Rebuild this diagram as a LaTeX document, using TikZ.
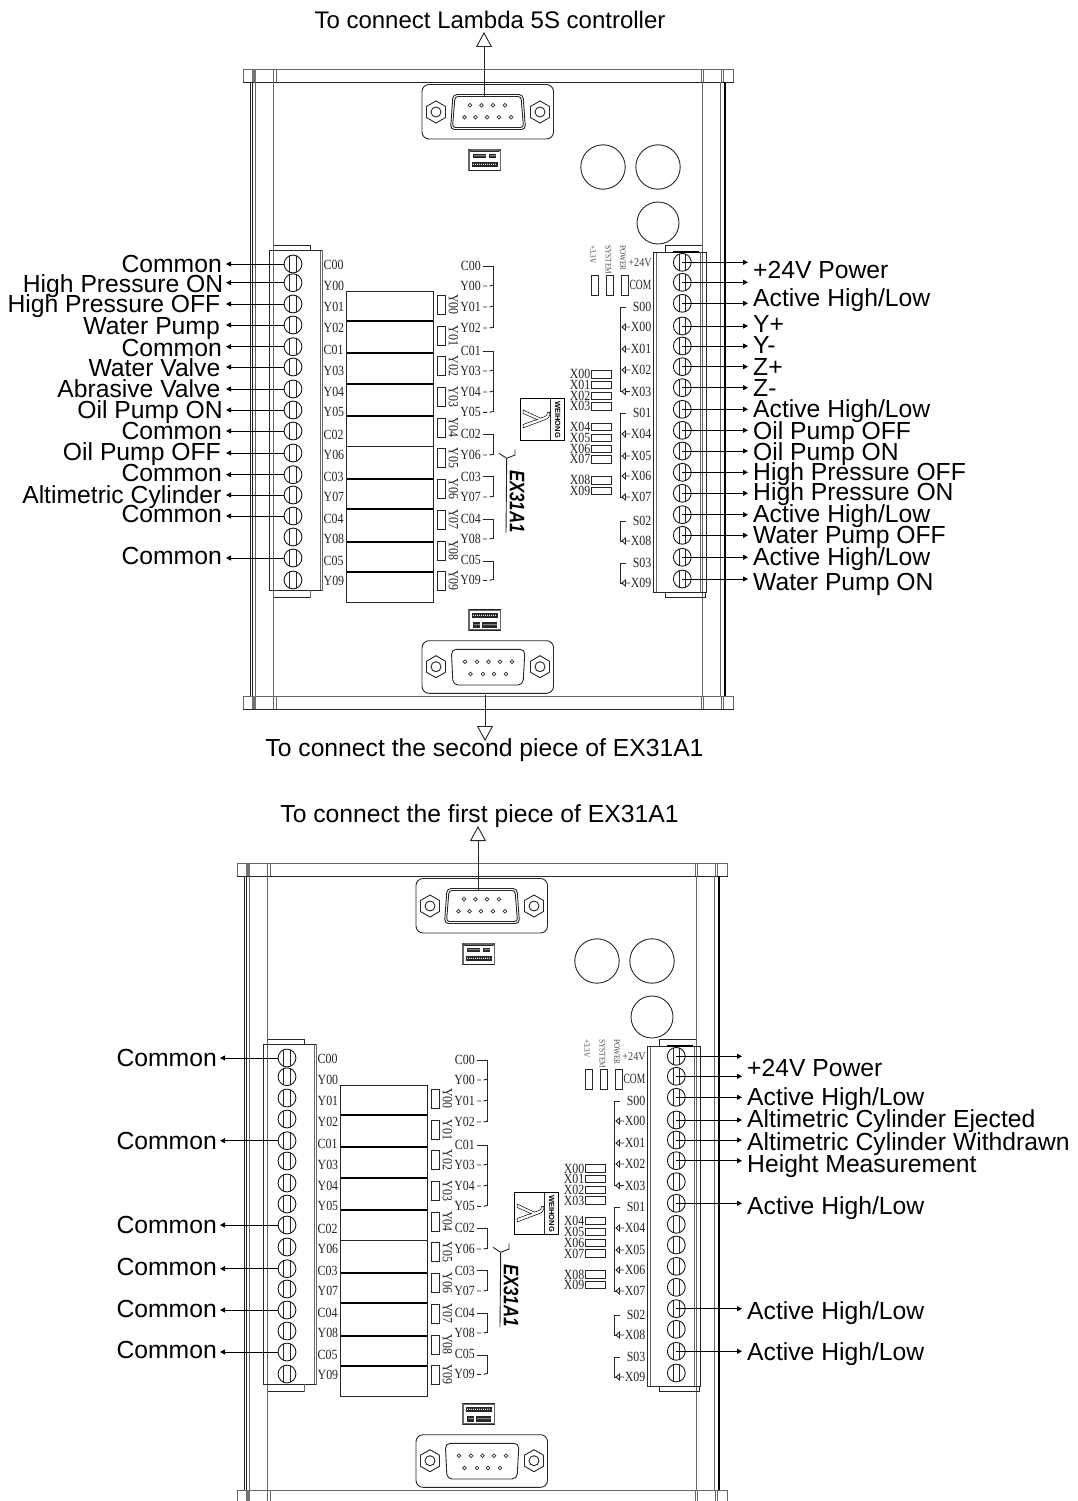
\documentclass[tikz,border=0pt]{standalone}
\usepackage{fontspec}
\usetikzlibrary{arrows.meta}
\setmainfont{Liberation Sans}
\newfontfamily\cond[FakeStretch=0.85]{Liberation Serif}
\newfontfamily\condx[FakeStretch=0.68]{Liberation Serif}
\newfontfamily\sansx[FakeStretch=0.8]{Liberation Sans}
\newcommand\ahl{Active High/Low}
\newcommand\hexnut[2]{%
  \begin{scope}[shift={(#1,#2)}]
    \draw[ln] (0,-11)--(9.5,-5.5)--(9.5,5.5)--(0,11)--(-9.5,5.5)--(-9.5,-5.5)--cycle;
    \draw[ln] (0,0) circle[radius=5];
  \end{scope}}
\newcommand\strip[4]{\fill[black!85] (#1,#3) rectangle (#2,#4);
  \foreach \d in {1,...,12}{\pgfmathsetmacro\xx{#1+\d*2}\ifdim\xx pt<#2pt\relax\fill[white] (\xx,{(#3+#4)/2}) circle[radius=.6];\fi}}
\newcommand\boardbody{%
  % bars
  \foreach \a/\b in {69.5/82,696/709}{
    \draw[bar] (243,\a) rectangle (733.5,\b);
    \draw[ln] (243,\b)--(733.5,\b);
    \fill[black!55] (252,\a) rectangle (256,\b);
    \draw[gln] (273.7,\a)--(273.7,\b) (276,\a)--(276,\b) (701,\a)--(701,\b) (703,\a)--(703,\b) (721.5,\a)--(721.5,\b) (723.5,\a)--(723.5,\b);
  }
  % rails
  \draw[ln] (250.7,82)--(250.7,696) (252.3,82)--(252.3,696);
  \draw[gln] (255.5,82)--(255.5,696) (273.8,82)--(273.8,696) (702,82)--(702,696) (720,82)--(720,696);
  \draw[line width=2.4pt] (725,82)--(725,696);
  % top DB9
  \draw[ln,rounded corners=7pt] (422,84.5) rectangle (553.5,139);
  \hexnut{436}{112}\hexnut{540}{112}
  \draw[ln,rounded corners=4pt] (453,94.5)--(523,94.5)--(525.5,129.5)--(450.5,129.5)--cycle;
  \draw[ln,rounded corners=3pt] (455,96.5)--(521,96.5)--(523.5,127.5)--(452.5,127.5)--cycle;
  \foreach \x in {470,481.5,493,505}{\draw[pinl] (\x,105.3) circle[radius=1.9];}
  \foreach \x in {464.5,475.5,487,499,511}{\draw[pinl] (\x,117.3) circle[radius=1.9];}
  \coordinate (dbt) at (484,96);
  % bottom DB9
  \draw[ln,rounded corners=7pt] (422,640.7) rectangle (553.5,693.3);
  \hexnut{436}{666.7}\hexnut{540}{666.7}
  \draw[ln,rounded corners=5pt] (451.3,649.3)--(525,649.3)--(523,685)--(453,685)--cycle;
  \foreach \x in {465,477,488.5,500,512}{\draw[pinl] (\x,661.7) circle[radius=1.9];}
  \foreach \x in {470.5,483,494,506}{\draw[pinl] (\x,674) circle[radius=1.9];}
  \coordinate (dbb) at (485,695);
  % small connectors
  \draw[gln,line width=1.3pt] (469,150) rectangle (500.5,170.3);
  \draw[ln] (469,149.5)--(471,151.5)--(498.5,151.5)--(500.5,149.5) (469,170.5)--(500.5,170.5);
  \strip{473}{486}{153.5}{158}\strip{489}{496}{153.5}{158}\strip{471.5}{498}{161.5}{167}
  \draw[gln,line width=1.3pt] (469,610) rectangle (500.5,630);
  \draw[ln] (469,630.5)--(500.5,630.5) (469,609)--(500.5,609);
  \strip{471.5}{497.5}{612.5}{618}\strip{473}{480}{622}{627.5}\strip{482}{497}{622}{627.5}
  % round parts
  \draw[ln] (603,167) circle[radius=22.2] (658,167) circle[radius=22.2] (658,223) circle[radius=21];
  % left terminal
  \draw[gln] (269,250) rectangle (322,590) (320.3,250)--(320.3,590);
  \draw[ln] (269,250)--(269,590) (274,245)--(310,245)--(310,250) (269,250)--(322,250) (269,590)--(322,590);
  \draw[gln] (274,597)--(310,597)--(310,590);
  \draw[ln] (274,597)--(310,597);
  \foreach[count=\i from 0] \y in {264,282.7,304,325,346.7,367,389,410,431,453,474.7,495,516,537,558,580}{
    \node[screw] (L\i) at (293,\y) {};
    \draw[ln] ([xshift=-3.3pt,yshift=8pt]L\i.center)--([xshift=-3.3pt,yshift=-8pt]L\i.center)
              ([xshift=3.3pt,yshift=8pt]L\i.center)--([xshift=3.3pt,yshift=-8pt]L\i.center);
  }
  \foreach \t/\y in {C00/265,Y00/285.5,Y01/307,Y02/327.5,C01/350,Y03/370.5,Y04/391.5,Y05/412,C02/434.5,Y06/454.5,C03/476.5,Y07/497,C04/518.5,Y08/539,C05/560.5,Y09/580.5}{
    \node[ser,anchor=west] (lc\t) at (323.5,\y) {\t};
  }
  % relays
  \foreach \a/\b in {291/321,321/352.7,352.7/384,384/415.7,415.7/446.7,446.7/478.7,478.7/509.3,509.3/541.7,541.7/572.3,572.3/602.7}{
    \draw[ln] (346.5,\a) rectangle (433,\b);
  }
  \foreach \y in {321,352.7,384,415.7,478.7,509.3,541.7,572.3}{\draw[line width=1.9pt] (346.5,\y)--(433,\y);}
  % relay LEDs
  \foreach[count=\i from 0] \y in {295,326.7,356.7,387.7,418,448.7,479.3,510,541,571}{
    \draw[ln] (437.7,\y) rectangle (445,\y+19);
    \node[ser,rotate=-90] (ry\i) at (453.5,\y+9.5) {Y0\i};
  }
  % second column labels
  \foreach \t/\y in {C00/265.7,Y00/286,Y01/307,Y02/327.7,C01/351,Y03/371,Y04/392,Y05/412,C02/434,Y06/454.7,C03/476.7,Y07/496.7,C04/518.7,Y08/539,C05/560,Y09/580}{
    \node[ser,anchor=east] (mc\t) at (481,\y) {\t};
  }
  \foreach \a/\b in {266/328,351/412.3,434/455,476.7/497,519/539,561/580.3}{
    \draw[ln] (482.5,\a)--(493.3,\a)--(493.3,\b);
  }
  \foreach \y in {286,307,328,371,392,412.3,455,497,539,580.3}{
    \draw[ln] (483,\y)--(487,\y) (489.5,\y)--(493.3,\y-.8);
  }
  % lambda badge
  \draw[line width=1pt] (520.3,398.7) rectangle (564.7,440);
  \draw[ln] (550.7,398.7)--(550.7,440);
  \node[rotate=-90,font=\fontsize{37}{37}\selectfont,inner sep=0pt] (lam) at (536.5,419) {\special{pdf:code 1 Tr 0.5 w}λ\special{pdf:code 0 Tr}};
  \node[rotate=-90,font=\fontsize{7.5}{8}\selectfont\bfseries] (wh) at (557.8,419.5) {WEIHONG};
  % model
  \draw[ln] (515,449.3)--(515,455)--(506.7,458.3)--(499,453.3) (506.7,458.3)--(506,533);
  \node[rotate=-90,font=\fontsize{21}{21}\selectfont\sansx\bfseries\itshape] (model) at (517,501.5) {EX31A1};
  % top LEDs
  \foreach \x/\t in {593/+3.3V,608.3/SYSTEM,623/POWER}{
    \node[tiny,rotate=-90,anchor=west] (tl\t) at (\x,245) {\t};
  }
  \foreach \x in {591,606,621}{\draw[ln] (\x,275) rectangle (\x+7.5,295);}
  % right terminal
  \draw[gln] (656.7,252)--(656.7,592) (700,252)--(700,592);
  \draw[ln] (653.3,252) rectangle (706.7,592) (665,252)--(665,245)--(702,245);
  \draw[line width=1.4pt] (673,252)--(699,252);
  \draw[ln] (665,592)--(665,597)--(705,597)--(705,592);
  \foreach[count=\i from 0] \y in {262.3,282.3,303.3,326,346,366.7,387.7,409.3,430.3,451,472.3,493.3,514.7,535.3,557.3,579}{
    \node[screw] (R\i) at (682.3,\y) {};
    \draw[ln] ([xshift=-3.3pt,yshift=8pt]R\i.center)--([xshift=-3.3pt,yshift=-8pt]R\i.center)
              ([xshift=3.3pt,yshift=8pt]R\i.center)--([xshift=3.3pt,yshift=-8pt]R\i.center);
  }
  \node[ser,font=\fontsize{12}{12}\selectfont\cond,text=black!75,anchor=east] (p24) at (652,263) {+24V};
  \node[ser,font=\fontsize{14}{14}\selectfont\condx,anchor=east] (rcCOM) at (651.5,285) {COM};
  \foreach \t/\y in {S00/307,X00/327,X01/349,X02/370,X03/391.6,S01/413,X04/434,X05/456,X06/476,X07/497,S02/521,X08/541,S03/563,X09/583}{
    \node[ser,anchor=east] (rc\t) at (651.5,\y) {\t};
  }
  \foreach \a/\b in {307/391.6,413/497,521/541,563/583}{
    \draw[ln] (626,\a)--(620.7,\a)--(620.7,\b)--(622,\b);
  }
  \foreach \y in {327,349,370,391.6,434,456,476,497,541,583}{
    \draw[ln] (630,\y)--(625.5,\y) (625.5,\y-3)--(622,\y)--(625.5,\y+3)--cycle;
  }
  % X LEDs
  \foreach \i/\y in {0/370.7,1/381,2/392,3/402.7,4/423,5/434,6/445,7/455.7,8/476.7,9/487}{
    \draw[ln] (591.7,\y) rectangle (611,\y+7.5);
    \node[ser,anchor=east] (xl\i) at (590.5,\y+3.7) {X0\i};
  }
}
\begin{document}
\begin{tikzpicture}[x=1pt,y=-1pt,
  ln/.style={line width=.9pt,black!85},
  gln/.style={line width=.9pt,black!60},
  bar/.style={line width=.9pt,black!60},
  pinl/.style={line width=.7pt,black!80},
  screw/.style={circle,draw=black!90,line width=.9pt,minimum size=17.8pt,inner sep=0pt},
  ser/.style={font=\fontsize{14}{14}\selectfont\cond,inner sep=0pt,text=black!85},
  tiny/.style={font=\fontsize{8.6}{8.6}\selectfont\cond,inner sep=0pt,text=black!70},
  lab/.style={font=\fontsize{24.7}{24.7}\selectfont,inner sep=0pt,text=black},
  lead/.style={line width=.9pt,black,-{Triangle[length=5pt,width=5pt]}},
  openarrow/.style={line width=.9pt,black!85,-{Triangle[open,length=15pt,width=16pt,fill=white]}}]
\path[use as bounding box,clip] (0,0) rectangle (1078,1501);
\fill[white] (0,0) rectangle (1078,1501);
\begin{scope}[name prefix=a-]\boardbody\end{scope}
\begin{scope}[shift={(-6,794)},name prefix=b-]\boardbody\end{scope}
% board 1 texts
\coordinate (atl) at (226,0);\coordinate (atr) at (748,0);
\coordinate (btl) at (220,0);\coordinate (btr) at (742,0);
\node[lab,font=\fontsize{24}{24}\selectfont,anchor=base] (t1) at (490,28.5) {To connect Lambda 5S controller};
\node[lab,anchor=base] (t2) at (484.5,756.7) {To connect the second piece of EX31A1};
\node[lab,anchor=base] (t3) at (479.5,822.5) {To connect the first piece of EX31A1};
\coordinate (t1a) at (484,32);\coordinate (t2a) at (485,741);\coordinate (t3a) at (478,826);
\draw[openarrow] (a-dbt)--(t1a);
\draw[openarrow] (a-dbb)--(t2a);
\draw[openarrow] (b-dbt)--(t3a);
\foreach \i/\y/\x/\t in {
 0/272.5/222/Common,1/292.5/223.5/High Pressure ON,2/312.5/220.5/High Pressure OFF,
 3/334.5/220/Water Pump,4/356.5/222/Common,5/376.5/220.5/Water Valve,
 6/397.5/220.5/Abrasive Valve,7/418.5/223/Oil Pump ON,8/439.5/222/Common,
 9/460.5/221/Oil Pump OFF,10/481.5/222/Common,11/503.5/221.5/Altimetric Cylinder,
 12/522.5/222/Common,14/564.5/222/Common}{
 \node[lab,anchor=base east] (al\i) at (\x,\y) {\t};
 \draw[lead] (a-L\i.west)--(a-L\i.west -| atl);
}
\foreach \i/\y/\t in {
 0/278.5/+24V Power,2/306.5/\ahl,3/332.5/Y+,4/353.5/Y-,5/375.5/Z+,6/396.5/Z-,7/417.5/\ahl,
 8/439.5/Oil Pump OFF,9/460.5/Oil Pump ON,10/480.5/High Pressure OFF,11/500.5/High Pressure ON,
 12/522.5/\ahl,13/543.5/Water Pump OFF,14/565.5/\ahl,15/590.5/Water Pump ON}{
 \node[lab,anchor=base west] (ar\i) at (753,\y) {\t};
}
\foreach \i in {0,...,15}{\draw[lead] (a-R\i.center)--(a-R\i.center -| atr);}
% board 2 texts
\foreach \i/\y in {0/1066.5,4/1149.5,8/1233.5,10/1275.5,12/1317.5,14/1358.5}{
 \node[lab,anchor=base east] (bl\i) at (217,\y) {Common};
 \draw[lead] (b-L\i.west)--(b-L\i.west -| btl);
}
\foreach \i/\y/\t in {
 0/1076.5/+24V Power,2/1105.5/\ahl,3/1127.5/Altimetric Cylinder Ejected,4/1150.5/Altimetric Cylinder Withdrawn,
 5/1172.5/Height Measurement,7/1214.5/\ahl,12/1319.5/\ahl,14/1360.5/\ahl}{
 \node[lab,anchor=base west] (br\i) at (747,\y) {\t};
 \draw[lead] (b-R\i.center)--(b-R\i.center -| btr);
}
\draw[lead] (b-R1.center)--(b-R1.center -| btr);
\end{tikzpicture}
\end{document}
